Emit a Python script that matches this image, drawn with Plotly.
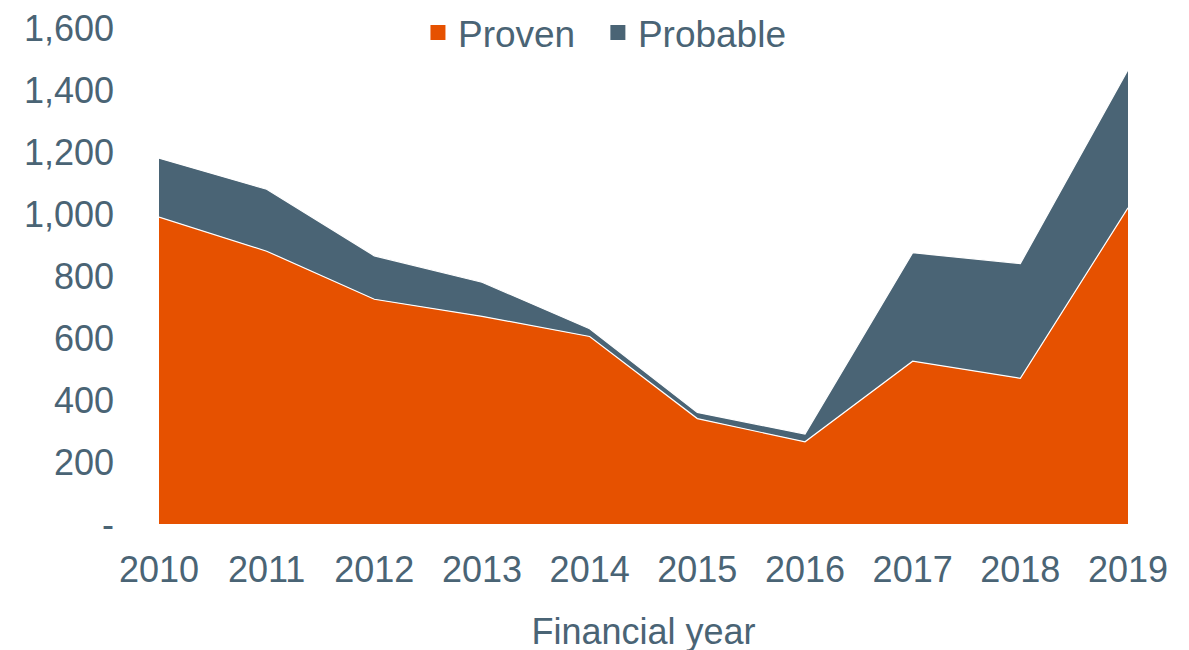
import plotly.graph_objects as go

years = [2010, 2011, 2012, 2013, 2014, 2015, 2016, 2017, 2018, 2019]
proven = [990, 880, 725, 670, 605, 340, 265, 525, 470, 1020]
probable = [190, 200, 140, 110, 25, 20, 25, 350, 370, 445]
series_names = ["Proven", "Probable"]
colors = ["#E65100", "#4A6475"]
ytick_vals = [0, 200, 400, 600, 800, 1000, 1200, 1400, 1600]
ytick_text = ["-", "200", "400", "600", "800", "1,000", "1,200", "1,400", "1,600"]

text_color = "#4A6475"
font_family = "Liberation Sans, Arial, sans-serif"

fig = go.Figure()
for name, vals, col in zip(series_names, [proven, probable], colors):
    fig.add_trace(go.Scatter(
        x=years, y=vals, name=name, mode="lines", stackgroup="one",
        line=dict(color="white", width=1.2), fillcolor=col,
        showlegend=False, hoverinfo="x+y+name",
    ))
# legend-only entries (extra thin spacing after label to widen the gap between items)
for name, col in zip(series_names, colors):
    fig.add_trace(go.Scatter(
        x=[None], y=[None], name=name + "\u00a0\u2009", mode="markers",
        marker=dict(symbol="square", size=15, color=col),
        showlegend=True,
    ))

fig.update_layout(
    width=1189, height=650,
    margin=dict(l=151, r=69, t=20, b=134, autoexpand=False),
    paper_bgcolor="white", plot_bgcolor="white",
    font=dict(family=font_family, color=text_color, size=36),
    legend=dict(orientation="h", x=0.469, xanchor="center", y=0.99, yanchor="middle",
                traceorder="normal",
                font=dict(size=37, color=text_color), itemsizing="trace",
                itemwidth=30, tracegroupgap=0, bgcolor="rgba(0,0,0,0)"),
    xaxis=dict(
        range=[2010, 2019], tickvals=years, ticktext=[str(y) for y in years],
        showgrid=False, zeroline=False, showline=False, ticks="",
        tickfont=dict(size=36, color=text_color), ticklabelstandoff=21,
        title=dict(text="Financial year", font=dict(size=36, color=text_color), standoff=29),
    ),
    yaxis=dict(
        range=[0, 1600], tickvals=ytick_vals, ticktext=ytick_text,
        showgrid=False, zeroline=False, showline=False, ticks="",
        tickfont=dict(size=36, color=text_color), ticklabelstandoff=44,
        ticklabeloverflow="allow",
    ),
)

fig.write_html("out.html")
